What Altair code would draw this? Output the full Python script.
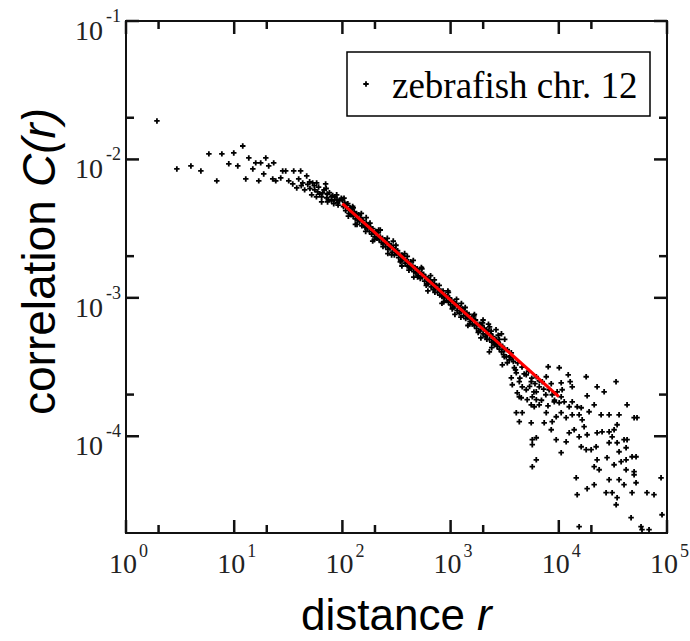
import altair as alt
import numpy as np
import pandas as pd

W, H = 541, 512
SERIF = "Liberation Serif, Times New Roman, serif"
SANS = "Liberation Sans, Arial, sans-serif"
PLUS = "M-1,0H1M0,-1V1"
SERIES = "zebrafish chr. 12"

# (log10 r, log10 C)
head_points = [
    (0.286, -1.722), (0.470, -2.069), (0.600, -2.047), (0.692, -2.083), (0.766, -1.960),
    (0.839, -2.155), (0.886, -1.960), (0.950, -2.032), (0.996, -1.953), (1.033, -2.047),
    (1.079, -1.903), (1.107, -2.141), (1.135, -1.989), (1.172, -2.069), (1.199, -2.025),
    (1.245, -2.025), (1.227, -2.155), (1.273, -2.105), (1.292, -1.989), (1.319, -2.047),
    (1.365, -2.025), (1.356, -2.141), (1.384, -2.155), (1.448, -2.083), (1.476, -2.083),
    (1.430, -2.134), (1.504, -2.155), (1.550, -2.083), (1.614, -2.083), (1.541, -2.177),
    (1.578, -2.206), (1.596, -2.141), (1.633, -2.170), (1.670, -2.119), (1.697, -2.162),
    (1.725, -2.170), (1.762, -2.170), (1.651, -2.220), (1.716, -2.256), (1.744, -2.220),
    (1.771, -2.235), (1.808, -2.271), (1.845, -2.177), (1.817, -2.242), (1.854, -2.278),
    (1.863, -2.307), (1.808, -2.307), (1.900, -2.271), (1.928, -2.292), (1.947, -2.256),
    (1.956, -2.314), (1.62, -2.19), (1.68, -2.18), (1.70, -2.21), (1.74, -2.19),
    (1.78, -2.20), (1.79, -2.25), (1.83, -2.22), (1.86, -2.25), (1.88, -2.24),
    (1.91, -2.26), (1.93, -2.27), (1.95, -2.29), (1.97, -2.30), (1.99, -2.28),
    (1.90, -2.30), (1.85, -2.21), (1.76, -2.27), (1.87, -2.29), (1.92, -2.32), (1.96, -2.33),
]

band_points = [
    (2.00, -2.29), (2.01, -2.34), (2.02, -2.31), (2.03, -2.37), (2.04, -2.33), (2.05, -2.32),
    (2.06, -2.39), (2.07, -2.35), (2.08, -2.40), (2.09, -2.36), (2.10, -2.41), (2.11, -2.38),
    (2.12, -2.43), (2.13, -2.39), (2.14, -2.44), (2.15, -2.40), (2.16, -2.45), (2.17, -2.42),
    (2.18, -2.48), (2.19, -2.44), (2.20, -2.47), (2.21, -2.49), (2.22, -2.46), (2.23, -2.50),
    (2.24, -2.47), (2.25, -2.52), (2.26, -2.49), (2.27, -2.54), (2.28, -2.50), (2.29, -2.53),
    (2.30, -2.56), (2.31, -2.52), (2.32, -2.57), (2.33, -2.53), (2.34, -2.58), (2.35, -2.56),
    (2.36, -2.60), (2.37, -2.57), (2.38, -2.61), (2.39, -2.58), (2.40, -2.63), (2.41, -2.60),
    (2.42, -2.65), (2.43, -2.61), (2.44, -2.64), (2.45, -2.62), (2.46, -2.67), (2.47, -2.64),
    (2.48, -2.69), (2.49, -2.65), (2.50, -2.68), (2.51, -2.66), (2.52, -2.71), (2.53, -2.69),
    (2.54, -2.73), (2.55, -2.69), (2.56, -2.72), (2.57, -2.70), (2.58, -2.75), (2.59, -2.73),
    (2.60, -2.77), (2.61, -2.74), (2.62, -2.78), (2.63, -2.74), (2.64, -2.79), (2.65, -2.77),
    (2.66, -2.81), (2.67, -2.78), (2.68, -2.82), (2.69, -2.79), (2.70, -2.84), (2.71, -2.81),
    (2.72, -2.86), (2.73, -2.82), (2.74, -2.85), (2.75, -2.83), (2.76, -2.88), (2.77, -2.85),
    (2.78, -2.90), (2.79, -2.86), (2.80, -2.89), (2.81, -2.87), (2.82, -2.92), (2.83, -2.89),
    (2.84, -2.94), (2.85, -2.90), (2.86, -2.93), (2.87, -2.91), (2.88, -2.96), (2.89, -2.94),
    (2.90, -2.98), (2.91, -2.95), (2.92, -2.99), (2.93, -2.95), (2.94, -3.00), (2.95, -2.98),
    (2.96, -3.02), (2.97, -2.99), (2.98, -3.03), (2.99, -3.00), (3.00, -3.05), (3.01, -3.02),
    (3.02, -3.07), (3.03, -3.03), (3.04, -3.06), (3.05, -3.04), (3.06, -3.09), (3.07, -3.06),
    (3.08, -3.11), (3.09, -3.07), (3.10, -3.10), (3.11, -3.08), (3.12, -3.13), (3.13, -3.10),
    (3.14, -3.15), (3.15, -3.11), (3.16, -3.14), (3.17, -3.12), (3.18, -3.17), (3.19, -3.15),
    (3.20, -3.19), (3.21, -3.15), (3.22, -3.20), (3.23, -3.16), (3.24, -3.22), (3.25, -3.19),
    (3.26, -3.24), (3.27, -3.19), (3.28, -3.23), (3.29, -3.20), (3.30, -3.26), (3.31, -3.22),
    (3.32, -3.28), (3.33, -3.23), (3.34, -3.27), (3.35, -3.24), (3.36, -3.30), (3.37, -3.26),
    (3.38, -3.32), (3.39, -3.28), (3.40, -3.31),
    (2.10, -2.35), (2.22, -2.42), (2.35, -2.51), (2.47, -2.59), (2.60, -2.70), (2.73, -2.78),
    (2.85, -2.87), (2.98, -2.96), (3.10, -3.04), (3.22, -3.12), (3.30, -3.16), (3.36, -3.21),
    (2.12, -2.47), (2.28, -2.59), (2.42, -2.68), (2.55, -2.77), (2.66, -2.85), (2.79, -2.95),
    (2.92, -3.04), (3.04, -3.12), (3.16, -3.20), (3.28, -3.29), (3.38, -3.36),
    (3.35, -3.19), (3.42, -3.23), (3.44, -3.27), (3.47, -3.26), (3.50, -3.30),
]

band_edge_points = [
    (2.015, -2.28), (2.055, -2.41), (2.095, -2.34), (2.135, -2.47), (2.175, -2.39),
    (2.215, -2.52), (2.255, -2.46), (2.295, -2.58), (2.335, -2.51), (2.375, -2.63),
    (2.415, -2.57), (2.455, -2.69), (2.495, -2.62), (2.535, -2.74), (2.575, -2.68),
    (2.615, -2.80), (2.655, -2.73), (2.695, -2.85), (2.735, -2.79), (2.775, -2.91),
    (2.815, -2.84), (2.855, -2.96), (2.895, -2.91), (2.935, -3.03), (2.975, -2.95),
    (3.015, -3.08), (3.055, -3.01), (3.095, -3.14), (3.135, -3.07), (3.175, -3.19),
    (3.215, -3.13), (3.255, -3.25), (3.295, -3.18), (3.335, -3.30), (3.375, -3.24),
]

tail_points = [
    (3.41, -3.33), (3.42, -3.30), (3.43, -3.35), (3.44, -3.32), (3.45, -3.37), (3.46, -3.34),
    (3.47, -3.39), (3.48, -3.35), (3.49, -3.41), (3.50, -3.375), (3.404, -3.339), (3.358, -3.390),
    (3.478, -3.484), (3.45, -3.30), (3.524, -3.375), (3.561, -3.397), (3.570, -3.433),
    (3.515, -3.426), (3.496, -3.426), (3.542, -3.448), (3.524, -3.469), (3.607, -3.542),
    (3.589, -3.505), (3.699, -3.556), (3.745, -3.606), (3.792, -3.570), (3.561, -3.578),
    (3.570, -3.628), (3.635, -3.606), (3.662, -3.643), (3.699, -3.664), (3.616, -3.686),
    (3.653, -3.722), (3.708, -3.736), (3.755, -3.715), (3.792, -3.679), (3.819, -3.643),
    (3.847, -3.606), (3.884, -3.570), (3.911, -3.664), (3.939, -3.700), (3.985, -3.679),
    (4.022, -3.715), (3.55, -3.42), (3.58, -3.46), (3.62, -3.47), (3.66, -3.50), (3.68, -3.55),
    (3.72, -3.53), (3.75, -3.58), (3.78, -3.62), (3.82, -3.60), (3.86, -3.66), (3.88, -3.70),
    (3.93, -3.62), (3.96, -3.74), (3.60, -3.52), (3.64, -3.58), (3.73, -3.64), (3.77, -3.68),
    (3.84, -3.74), (3.90, -3.78),
]

far_points = [
    (3.902, -3.498), (4.004, -3.505), (4.253, -3.570), (4.529, -3.606), (4.354, -3.643),
    (4.419, -3.679), (4.262, -3.708), (4.087, -3.556), (4.105, -3.606), (4.124, -3.643),
    (4.022, -3.614), (4.031, -3.664), (4.050, -3.751), (4.004, -3.758), (3.958, -3.751),
    (4.124, -3.751), (4.096, -3.787), (4.170, -3.787), (4.207, -3.794), (4.280, -3.823),
    (4.327, -3.773), (4.391, -3.845), (4.465, -3.845), (4.557, -3.845), (4.631, -3.773),
    (4.696, -3.866), (4.723, -3.866), (4.188, -3.845), (4.216, -3.881), (4.124, -3.845),
    (4.068, -3.866), (4.022, -3.830), (3.976, -3.859), (3.939, -3.895), (3.865, -3.903),
    (3.930, -3.953), (3.884, -3.830), (3.819, -3.773), (3.773, -3.787), (3.792, -3.736),
    (3.745, -3.773), (3.635, -3.715), (3.607, -3.830), (3.662, -3.830), (3.635, -3.895),
    (3.745, -3.903), (3.755, -4.025), (3.792, -4.011), (3.755, -4.061), (3.792, -4.170),
    (3.755, -4.220), (3.976, -4.025), (4.022, -4.119), (4.068, -4.040), (4.096, -3.975),
    (4.142, -3.953), (4.188, -4.004), (4.234, -3.931), (4.262, -3.989), (4.207, -4.076),
    (4.253, -4.097), (4.299, -4.097), (4.345, -4.076), (4.354, -3.975), (4.400, -3.968),
    (4.465, -3.968), (4.511, -3.953), (4.539, -3.917), (4.493, -4.004), (4.465, -4.047),
    (4.539, -4.047), (4.557, -4.112), (4.603, -4.025), (4.631, -4.025), (4.622, -4.083),
    (4.354, -4.170), (4.446, -4.155), (4.576, -4.184), (4.622, -4.170), (4.677, -4.148),
    (4.714, -4.148), (4.327, -4.220), (4.373, -4.242), (4.511, -4.206), (4.622, -4.242),
    (4.696, -4.256), (4.696, -4.278), (4.714, -4.336), (4.161, -4.300), (4.170, -4.422),
    (4.262, -4.379), (4.327, -4.350), (4.465, -4.314), (4.437, -4.408), (4.493, -4.408),
    (4.557, -4.314), (4.603, -4.350), (4.539, -4.444), (4.530, -4.495), (4.677, -4.408),
    (4.815, -4.408), (4.880, -4.422), (4.945, -4.300), (4.954, -4.567), (4.668, -4.588),
    (4.188, -4.653), (4.760, -4.653), (4.769, -4.675), (4.834, -4.675),
]

fit_r = [100, 10000]
fit_c = [4.8e-3, 1.93e-4]

x_major = [1, 10, 100, 1000, 10000, 100000]
x_exponents = ["0", "1", "2", "3", "4", "5"]
x_minor = [2, 20, 200, 2000, 20000]
y_major = [1e-1, 1e-2, 1e-3, 1e-4]
y_exponents = ["-1", "-2", "-3", "-4"]
y_minor = [2e-2, 2e-3, 2e-4]

pts = np.array(head_points + band_points + band_edge_points + tail_points + far_points)
scatter_df = pd.DataFrame({"r": 10 ** pts[:, 0], "C": 10 ** pts[:, 1], "series": SERIES})
fit_df = pd.DataFrame({"r": fit_r, "C": fit_c})

xs = alt.Scale(type="log", domain=[1, 1e5], nice=False)
ys = alt.Scale(type="log", domain=[2e-5, 0.1], nice=False)

MARK = dict(shape=PLUS, filled=False, size=30, strokeWidth=1.8, opacity=1, color="black")

scatter = alt.Chart(scatter_df).mark_point(clip=True, **MARK).encode(
    x=alt.X("r:Q", scale=xs, axis=None),
    y=alt.Y("C:Q", scale=ys, axis=None),
    tooltip=["r:Q", "C:Q", "series:N"],
)

fit = alt.Chart(fit_df).mark_line(color="#ff0000", strokeWidth=3).encode(
    x=alt.X("r:Q", scale=xs, axis=None), y=alt.Y("C:Q", scale=ys, axis=None)
)

TICK = dict(color="#111", strokeWidth=2.5)


def x_ticks(vals, length):
    df = pd.DataFrame({"v": vals})
    xenc = alt.X("v:Q", scale=xs, axis=None)
    bottom = alt.Chart(df).mark_rule(**TICK).encode(x=xenc, y=alt.value(H), y2=alt.value(H - length))
    top = alt.Chart(df).mark_rule(**TICK).encode(x=xenc, y=alt.value(0), y2=alt.value(length))
    return [bottom, top]


def y_ticks(vals, length):
    df = pd.DataFrame({"v": vals})
    yenc = alt.Y("v:Q", scale=ys, axis=None)
    left = alt.Chart(df).mark_rule(**TICK).encode(y=yenc, x=alt.value(0), x2=alt.value(length))
    right = alt.Chart(df).mark_rule(**TICK).encode(y=yenc, x=alt.value(W), x2=alt.value(W - length))
    return [left, right]


ticks = x_ticks(x_major, 13) + x_ticks(x_minor, 8) + y_ticks(y_major, 13) + y_ticks(y_minor, 8)

xlab_df = pd.DataFrame({"v": x_major, "e": x_exponents})
ylab_df = pd.DataFrame({"v": y_major, "e": y_exponents})
LAB = dict(font=SERIF, color="#222", baseline="alphabetic")

xbase = alt.Chart(xlab_df).mark_text(text="10", fontSize=28, align="right", dx=11, **LAB).encode(
    x=alt.X("v:Q", scale=xs, axis=None), y=alt.value(H + 40))
xexp = alt.Chart(xlab_df).mark_text(fontSize=18, align="left", dx=13, **LAB).encode(
    x=alt.X("v:Q", scale=xs, axis=None), y=alt.value(H + 24), text="e:N")
ybase = alt.Chart(ylab_df).mark_text(text="10", fontSize=28, align="right", dy=19, **LAB).encode(
    y=alt.Y("v:Q", scale=ys, axis=None), x=alt.value(-23))
yexp = alt.Chart(ylab_df).mark_text(fontSize=18, align="left", dy=1, **LAB).encode(
    y=alt.Y("v:Q", scale=ys, axis=None), x=alt.value(-20), text="e:N")

# legend box (one entry)
legend_df = pd.DataFrame({"series": [SERIES]})
leg_box = alt.Chart(legend_df).mark_rect(fill="white", stroke="black", strokeWidth=1.5).encode(
    x=alt.value(221), x2=alt.value(524), y=alt.value(31), y2=alt.value(95))
leg_sym = alt.Chart(legend_df).mark_point(**MARK).encode(x=alt.value(240), y=alt.value(63))
leg_txt = alt.Chart(legend_df).mark_text(
    font=SERIF, fontSize=37, align="left", baseline="alphabetic", color="black"
).encode(x=alt.value(266), y=alt.value(77), text="series:N")

one = pd.DataFrame({"k": [0]})
TT = dict(font=SANS, fontSize=44, color="black", baseline="alphabetic", align="left")
xt1 = alt.Chart(one).mark_text(text="distance", **TT).encode(x=alt.value(175), y=alt.value(H + 97))
xt2 = alt.Chart(one).mark_text(text="r", fontStyle="italic", **TT).encode(x=alt.value(351), y=alt.value(H + 97))
TY = dict(TT, fontSize=46)
yt1 = alt.Chart(one).mark_text(text="correlation", angle=270, **TY).encode(x=alt.value(-71), y=alt.value(394))
yt2 = alt.Chart(one).mark_text(text="C(r)", angle=270, fontStyle="italic", **TY).encode(x=alt.value(-71), y=alt.value(166))

chart = alt.layer(
    *ticks, scatter, fit, leg_box, leg_sym, leg_txt, xbase, xexp, ybase, yexp, xt1, xt2, yt1, yt2
).properties(
    width=W, height=H,
    padding={"left": 126, "top": 21, "right": 23, "bottom": 108},
    autosize=alt.AutoSizeParams(type="none"),
).configure_view(stroke="#111", strokeWidth=2)

chart.save("out.html", embed_options={"renderer": "svg", "actions": False})
